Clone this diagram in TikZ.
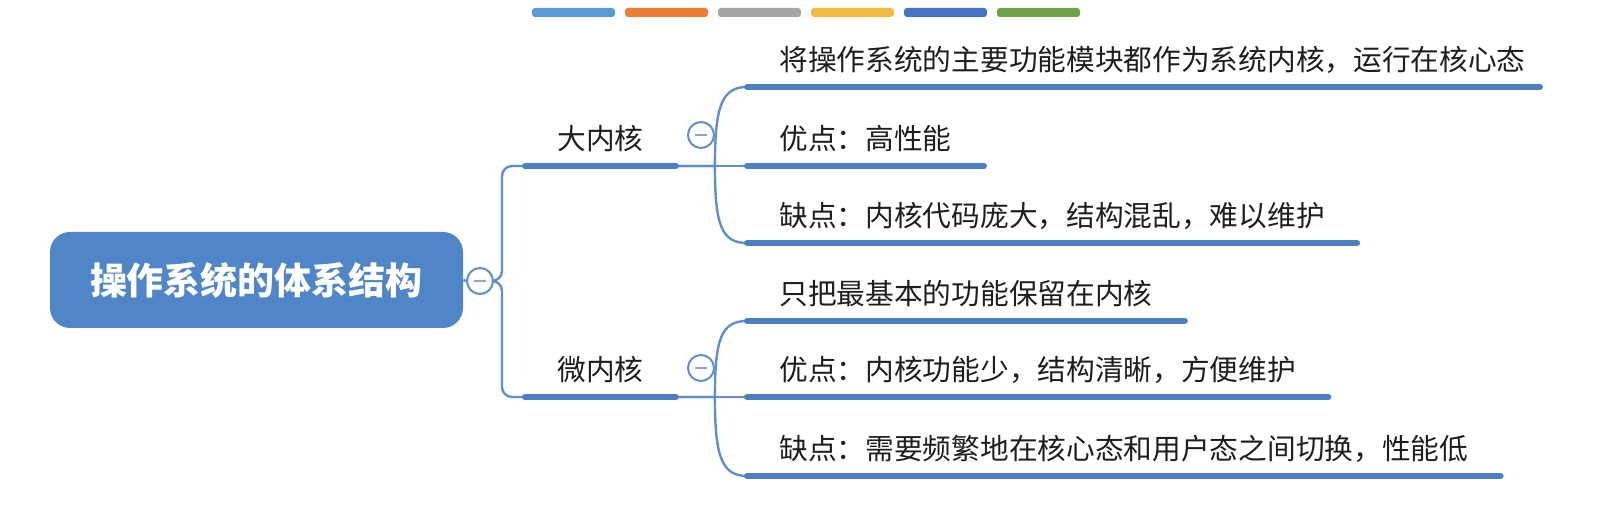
\documentclass[tikz,border=0pt]{standalone}
\usepackage{fontspec}
\newfontfamily\cjk{Noto Sans CJK SC}
\usepackage{tikz}
\usetikzlibrary{positioning, calc, shapes}
\definecolor{RootBlue}{RGB}{80,134,199}
\definecolor{LineBlue}{RGB}{76,127,194}
\definecolor{ConnBlue}{RGB}{96,143,204}
\definecolor{MinusGray}{RGB}{140,165,200}
\definecolor{TextDark}{RGB}{30,30,30}
\tikzstyle{topic} = [rounded corners=10pt, fill=RootBlue, text=white, font=\cjk\bfseries\fontsize{18.5}{20}\selectfont, minimum width=206.5pt, minimum height=48pt, inner sep=0pt]
\tikzstyle{item} = [anchor=south west, inner xsep=16pt, inner ysep=8pt, text depth=0pt, text=TextDark, font=\cjk\fontsize{14.35}{16}\selectfont]
\tikzstyle{uline} = [line width=3pt, LineBlue, line cap=round]
\tikzstyle{conn} = [line width=1.2pt, ConnBlue]
\tikzstyle{fold} = [circle, draw=ConnBlue, line width=1pt, fill=white, minimum size=13pt, inner sep=0pt]

\begin{document}
\begin{tikzpicture}[x=0.5pt, y=-0.5pt]
\useasboundingbox (0,0) rectangle (1623,522);

\foreach \c [count=\i from 0] in {{91,155,213}, {237,125,49}, {165,165,165}, {244,185,66}, {68,114,196}, {112,160,71}} {
    \definecolor{bar}{RGB}{\c}
    \fill[bar, rounded corners=1.5pt] (532+\i*93,8) rectangle ++(83,9);
}

\node[topic] (root) at (256.5,280) {操作系统的体系结构};
\node[fold] (f0) at (480,281) {};

\node[item] (big) at (525,166) {大内核};
\node[item] (micro) at (525,397) {微内核};
\node[fold] (f1) at (701,135) {};
\node[fold] (f2) at (701,368) {};

\node[item] (b1) at (747,87) {将操作系统的主要功能模块都作为系统内核，运行在核心态};
\node[item] (b2) at (747,166) {优点：高性能};
\node[item] (b3) at (747,243) {缺点：内核代码庞大，结构混乱，难以维护};
\node[item] (m1) at (747,321) {只把最基本的功能保留在内核};
\node[item] (m2) at (747,397) {优点：内核功能少，结构清晰，方便维护};
\node[item] (m3) at (747,476) {缺点：需要频繁地在核心态和用户态之间切换，性能低};

\draw[conn] (root.east) -- (f0.west);
\draw[conn, rounded corners=5pt] (f0.east) -- ++(8,0) |- (big.south west);
\draw[conn, rounded corners=5pt] (f0.east) -- ++(8,0) |- (micro.south west);

\foreach \p/\a/\b/\c in {big/b1/b2/b3, micro/m1/m2/m3} {
    \draw[conn] (\p.south east) -- (\b.south west);
    \draw[conn] (\p.south east) -- ++(39,0) .. controls +(0,-58) and +(-26,0) .. (\a.south west);
    \draw[conn] (\p.south east) -- ++(39,0) .. controls +(0,58) and +(-26,0) .. (\c.south west);
}

\foreach \n in {big, micro, b2, b3, m1, m2, m3}
    \draw[uline] (\n.south west) -- (\n.south east);
\draw[uline] (b1.south west) -- ([xshift=-9pt]b1.south east);

\foreach \f in {f0, f1, f2}
    \draw[MinusGray, line width=1pt] ([xshift=-3pt]\f.center) -- ([xshift=3pt]\f.center);
\end{tikzpicture}
\end{document}
